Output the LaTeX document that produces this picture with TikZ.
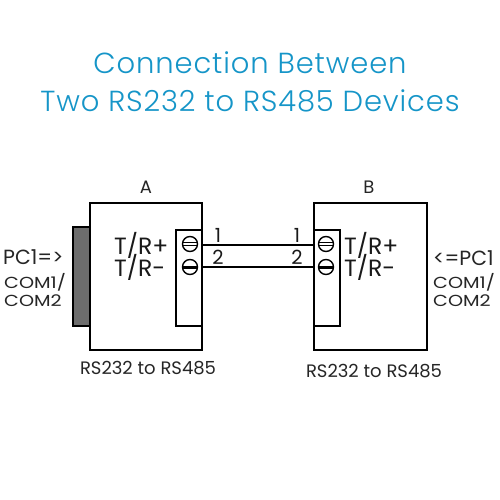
\documentclass[tikz,border=0pt]{standalone}
\usepackage{fontspec}
\setmainfont{Poppins}
\newfontfamily\titlefont[LetterSpace=3]{Poppins Light}
\newcommand{\widecom}[1]{\scalebox{1.2}[1]{\fontsize{16}{16}\selectfont #1}}
\definecolor{titleblue}{HTML}{1595C8}
\definecolor{conngray}{HTML}{6D6D6D}
\tikzset{
  x=1pt,y=-1pt,
  device/.style={draw=black,line width=1.5pt,fill=white},
  wire/.style={draw=black,line width=1.5pt},
  screw/.style={circle,draw=black,line width=1.4pt,minimum size=15pt,inner sep=0pt,fill=white},
  lbl/.style={inner sep=0pt,font=\fontsize{18}{18}\selectfont,text=black!85},
  pclbl/.style={inner sep=0pt,font=\fontsize{20.5}{20.5}\selectfont,text=black!85},
  tr/.style={inner sep=0pt,font=\fontsize{23.5}{23.5}\selectfont,text=black!90,anchor=west},
  num/.style={inner sep=0pt,font=\fontsize{19.5}{19.5}\selectfont,text=black!90},
  ttl/.style={inner sep=0pt,text=titleblue,font=\titlefont\fontsize{29}{29}\selectfont}
}
\begin{document}
\begin{tikzpicture}
\useasboundingbox (0,0) rectangle (500,500);
\fill[white] (0,0) rectangle (500,500);
\node[ttl] (t1) at (250,63) {Connection Between};
\node[ttl] (t2) at (250,101) {Two RS232 to RS485 Devices};
% device A
\draw[device,fill=conngray] (73,227) rectangle (90,326);
\draw[device] (90,203) rectangle (202,350);
\draw[device] (176,230) rectangle (202,326);
\node[screw] (a1) at (190,244) {};
\node[screw] (a2) at (190,267) {};
\draw[black,line width=0.9pt] (183,242.5) -- (197,242.5) (183,245.5) -- (197,245.5);
\draw[black,line width=3pt] (183,267) -- (197,267);
% device B
\draw[device] (314,203) rectangle (427,350);
\draw[device] (314,230) rectangle (340,326);
\node[screw] (b1) at (326,244) {};
\node[screw] (b2) at (326,267) {};
\draw[black,line width=0.9pt] (319,242.5) -- (333,242.5) (319,245.5) -- (333,245.5);
\draw[black,line width=3pt] (319,267) -- (333,267);
% wires
\coordinate (wa1) at (202,245);
\coordinate (wb1) at (314,245);
\coordinate (wa2) at (202,267);
\coordinate (wb2) at (314,267);
\draw[wire] (wa1) -- (wb1);
\draw[wire] (wa2) -- (wb2);
% labels
\node[lbl] (la) at (146,187) {A};
\node[lbl] (lb) at (369,187) {B};
\node[tr] (tra1) at (114,245) {T/R+};
\node[tr] (tra2) at (114,267.5) {T/R-};
\node[tr] (trb1) at (344,245) {T/R+};
\node[tr] (trb2) at (344,267.5) {T/R-};
\node[num] (n1) at (218,235) {1};
\node[num] (n2) at (218,257) {2};
\node[num] (n3) at (297,235) {1};
\node[num] (n4) at (297,257) {2};
\node[pclbl,anchor=west] (pc1) at (3,257) {PC1=>};
\node[lbl,anchor=west] (com1) at (4,282) {\widecom{COM1/}};
\node[lbl,anchor=west] (com2) at (4,301) {\widecom{COM2}};
\node[pclbl,anchor=west] (pc2) at (433,258) {<=PC1};
\node[lbl,anchor=west] (com3) at (433,282) {\widecom{COM1/}};
\node[lbl,anchor=west] (com4) at (433,301) {\widecom{COM2}};
\node[lbl] (ra) at (148,368) {RS232 to RS485};
\node[lbl] (rb) at (374,371) {RS232 to RS485};
\end{tikzpicture}
\end{document}
